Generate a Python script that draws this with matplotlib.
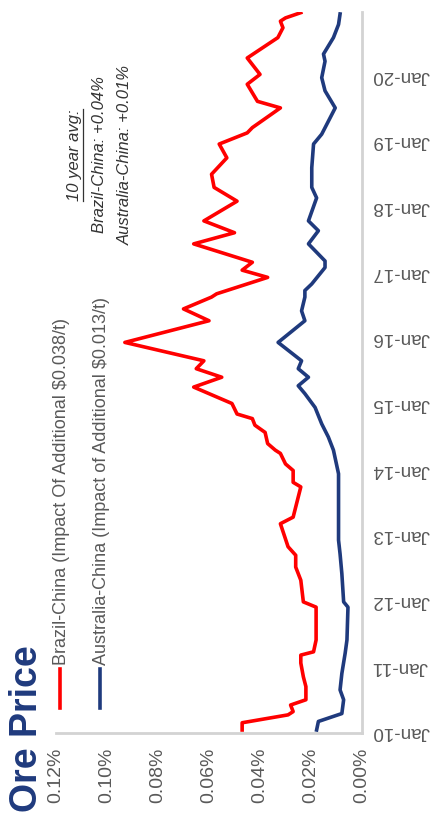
import matplotlib
matplotlib.use("Agg")
import matplotlib.pyplot as plt
from matplotlib.lines import Line2D

plt.rcParams['font.family'] = ['Liberation Sans', 'DejaVu Sans']

W, H = 436, 817

# freight impact on ore price, % (decimal year, value)
brazil_t = [2010.00, 2010.11, 2010.23, 2010.28, 2010.38, 2010.46, 2010.66, 2010.81,
            2011.02, 2011.14, 2011.19, 2011.37, 2011.87, 2011.95, 2012.28, 2012.38,
            2012.48, 2012.66, 2012.79, 2013.14, 2013.24, 2013.70, 2013.77, 2013.95,
            2014.05, 2014.21, 2014.26, 2014.36, 2014.53, 2014.64, 2014.74, 2014.81,
            2014.97, 2015.07, 2015.22, 2015.37, 2015.50, 2015.62, 2015.90, 2016.23,
            2016.41, 2016.59, 2016.64, 2016.89, 2017.00, 2017.12, 2017.40, 2017.57,
            2017.75, 2018.05, 2018.26, 2018.46, 2018.71, 2018.92, 2019.09, 2019.17,
            2019.47, 2019.57, 2019.83, 2019.98, 2020.23, 2020.54, 2020.69, 2020.79,
            2020.84, 2020.92]
brazil_v = [0.047, 0.047, 0.029, 0.027, 0.028, 0.022, 0.022, 0.023,
            0.024, 0.024, 0.019, 0.018, 0.018, 0.023, 0.024, 0.025,
            0.026, 0.026, 0.029, 0.032, 0.027, 0.024, 0.027, 0.027,
            0.030, 0.032, 0.034, 0.037, 0.038, 0.042, 0.043, 0.049,
            0.051, 0.057, 0.066, 0.055, 0.065, 0.062, 0.093, 0.060,
            0.070, 0.059, 0.057, 0.037, 0.047, 0.043, 0.066, 0.050,
            0.062, 0.049, 0.058, 0.059, 0.053, 0.056, 0.045, 0.043,
            0.032, 0.041, 0.045, 0.040, 0.045, 0.033, 0.031, 0.032,
            0.030, 0.024]

australia_t = [2010.00, 2010.13, 2010.25, 2010.46, 2010.61, 2010.86, 2011.17, 2011.37,
               2011.87, 2011.95, 2012.38, 2012.68, 2012.89, 2013.60, 2013.90, 2014.26,
               2014.46, 2014.66, 2014.91, 2015.12, 2015.24, 2015.37, 2015.50, 2015.62,
               2015.90, 2016.23, 2016.38, 2016.59, 2016.69, 2016.79, 2017.04, 2017.14,
               2017.40, 2017.60, 2017.75, 2018.10, 2018.26, 2018.56, 2018.92, 2019.07,
               2019.47, 2019.73, 2019.93, 2020.18, 2020.29, 2020.54, 2020.74, 2020.90]
australia_v = [0.0178, 0.0171, 0.0079, 0.0072, 0.0086, 0.0079, 0.0066, 0.0059,
               0.0055, 0.0072, 0.0079, 0.0086, 0.0092, 0.0092, 0.0092, 0.0112,
               0.0132, 0.0158, 0.0184, 0.0224, 0.0250, 0.0210, 0.0250, 0.0237,
               0.0329, 0.0224, 0.0237, 0.0224, 0.0224, 0.0197, 0.0145, 0.0145,
               0.0210, 0.0171, 0.0210, 0.0178, 0.0197, 0.0197, 0.0190, 0.0158,
               0.0105, 0.0145, 0.0158, 0.0145, 0.0151, 0.0112, 0.0092, 0.0086]

year_ticks = list(range(2010, 2021))
year_labels = ['Jan-%02d' % (y % 100) for y in year_ticks]
pct_ticks = [0.00, 0.02, 0.04, 0.06, 0.08, 0.10, 0.12]
pct_labels = ['%.2f%%' % v for v in pct_ticks]

series_names = ['Brazil-China (Impact Of Additional $0.038/t)',
                'Australia-China (Impact of Additional $0.013/t)']
avg_title = '10 year avg:'
avg_lines = ['Brazil-China: +0.04%', 'Australia-China: +0.01%']

RED = '#FF0000'
NAVY = '#1F3A7D'
GREY = '#595959'


def fx(px):
    return px / W


def fy(py):
    return 1 - py / H


fig = plt.figure(figsize=(W / 100, H / 100), dpi=100)
ax = fig.add_axes([fx(56), fy(733), (362 - 56) / W, (733 - 12) / H])

# chart is laid out sideways: value runs right-to-left, time runs upward
ax.plot(brazil_v, brazil_t, color=RED, lw=2.6, solid_joinstyle='round')
ax.plot(australia_v, australia_t, color=NAVY, lw=2.6, solid_joinstyle='round')

ax.set_xlim(0.12, 0.0)
ax.set_ylim(2009.954, 2020.93)

ax.set_xticks(pct_ticks)
ax.set_xticklabels(pct_labels, rotation=90)
ax.tick_params(axis='x', length=0, pad=10.5, labelsize=14, labelcolor=GREY)

ax.yaxis.tick_right()
ax.set_yticks(year_ticks)
ax.set_yticklabels(year_labels, rotation=180)
ax.tick_params(axis='y', length=0, pad=7, labelsize=13.5, labelcolor=GREY)

for side in ['top', 'left']:
    ax.spines[side].set_visible(False)
for side in ['bottom', 'right']:
    ax.spines[side].set_color('#D3D3D3')
    ax.spines[side].set_linewidth(2)

# title and legend
fig.text(fx(27), fy(812), 'Ore Price', rotation=90, ha='center', va='bottom',
         fontsize=27, fontweight='bold', color=NAVY)

for xpos, col, name in zip([60, 100], [RED, NAVY], series_names):
    fig.add_artist(Line2D([fx(xpos), fx(xpos)], [fy(708), fy(669)], color=col,
                          lw=2.6, transform=fig.transFigure))
    fig.text(fx(xpos + 2), fy(665), name, rotation=90, ha='center', va='bottom',
             fontsize=13, color=GREY)

# average annotation
t_avg = fig.text(fx(74), fy(155), avg_title, rotation=90, ha='center', va='center',
                 fontsize=12, style='italic', color='#333333')
for xpos, line in zip([99, 125], avg_lines):
    fig.text(fx(xpos), fy(155), line, rotation=90, ha='center', va='center',
             fontsize=12, style='italic', color='#333333')

fig.canvas.draw()
bb = t_avg.get_window_extent(fig.canvas.get_renderer())
fig.add_artist(Line2D([(bb.x1 + 1) / W, (bb.x1 + 1) / W], [bb.y0 / H, bb.y1 / H],
                      color='#333333', lw=0.9, transform=fig.transFigure))

fig.savefig('out.png', dpi=100)
